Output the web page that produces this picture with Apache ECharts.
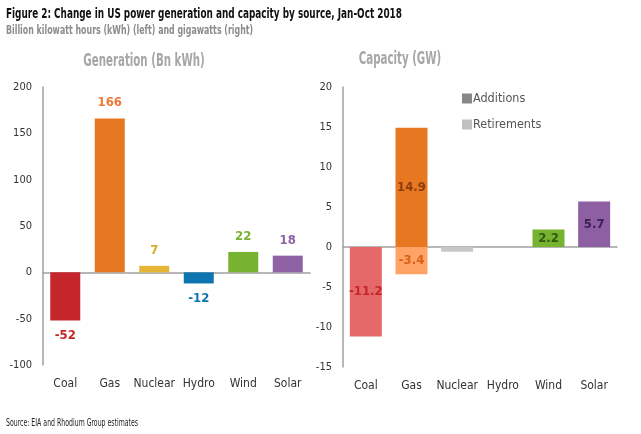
<!DOCTYPE html>
<html><head><meta charset="utf-8">
<script src="https://cdn.jsdelivr.net/npm/echarts@6/dist/echarts.min.js"></script>
<style>html,body{margin:0;padding:0;background:#fff}#c{width:641px;height:434px}</style>
</head><body><div id="c"></div>
<script>
var categories = ['Coal','Gas','Nuclear','Hydro','Wind','Solar'];
var generation = [-52, 166, 7, -12, 22, 18];
var additions = [0, 14.9, 0, 0, 2.2, 5.7];
var retirements = [-11.2, -3.4, -0.6, 0, 0, 0];
var genTicks = {min: -100, max: 200, interval: 50};
var capTicks = {min: -15, max: 20, interval: 5};

var genColors = ['#C4262B','#E87722','#E6B535','#0F75B0','#78B231','#8E62A4'];
var genLabelColors = ['#C4262B','#EF7A3A','#D9A830','#0F75B0','#78B231','#8E62A4'];
var addColors = ['#888','#E87722','#888','#888','#78B231','#8E5FA3'];
var addLabelColors = ['#333','#8A3E0E','#333','#333','#2F5A0F','#3C2152'];
var retColors = ['#E6696A','#FFA366','#C8C8C8','#C8C8C8','#C8C8C8','#C8C8C8'];
var retLabelColors = ['#C4262B','#D9601A','#333','#333','#333','#333'];

var FONT = '"DejaVu Sans Condensed",sans-serif';
var labelFont = {fontFamily: FONT, fontWeight: 'bold', fontSize: 13};

var genData = generation.map(function(v,i){
  return {value: v, itemStyle:{color: genColors[i]},
    label:{show:true, position: v<0?'bottom':'top', distance: 9, color: genLabelColors[i]}};
});
var addData = additions.map(function(v,i){
  return {value: v, itemStyle:{color: addColors[i]},
    label:{show: v!==0, position:'inside', color: addLabelColors[i]}};
});
var retData = retirements.map(function(v,i){
  return {value: v, itemStyle:{color: retColors[i]},
    label:{show: v<=-1, position:'inside', color: retLabelColors[i]}};
});

var axisLabel = {color:'#333', fontFamily: FONT, fontSize: 11, margin: 11};
var catLabel = {color:'#333', fontFamily: FONT, fontSize: 12, margin: 13, interval: 0};
var axisLineStyle = {lineStyle:{color:'#A0A0A0', width:1.5}};

function txt(t, x, y, size, weight, color, sx, align){
  return {type:'text', x:x, y:y, scaleX:sx, silent:true,
    style:{text:t, fontFamily:FONT, fontSize:size, fontWeight:weight, fill:color,
      textAlign: align||'left', textVerticalAlign:'middle'}};
}

var chart = echarts.init(document.getElementById('c'), null, {renderer:'canvas'});
chart.setOption({
  animation: false,
  graphic: [
    txt('Figure 2: Change in US power generation and capacity by source, Jan-Oct 2018', 6, 14, 14, 'bold', '#111', 0.705),
    txt('Billion kilowatt hours (kWh) (left) and gigawatts (right)', 6, 31, 12, 'bold', '#8C8C8C', 0.73),
    txt('Generation (Bn kWh)', 144, 62, 17, 'bold', '#A6A6A6', 0.67, 'center'),
    txt('Capacity (GW)', 400, 60, 17, 'bold', '#A6A6A6', 0.67, 'center'),
    txt('Source: EIA and Rhodium Group estimates', 6, 423, 10, 'normal', '#222', 0.69)
  ],
  legend: {
    data:['Additions','Retirements'], orient:'vertical', left:457, top:87, itemGap:13,
    itemWidth:10, itemHeight:10, icon:'rect',
    textStyle:{fontFamily:FONT, fontSize:12.5, color:'#555', padding:[0,0,0,-4]}
  },
  grid: [
    {left:43, right:331, top:87, height:278},
    {left:343, right:24, top:87, height:280}
  ],
  xAxis: [
    {type:'category', data:categories, gridIndex:0, position:'bottom',
     axisLine:{show:false, onZero:false}, axisTick:{show:false}, axisLabel:catLabel},
    {type:'category', data:categories, gridIndex:1, position:'bottom',
     axisLine:{show:false, onZero:false}, axisTick:{show:false}, axisLabel:catLabel},
    {type:'category', data:categories, gridIndex:0, axisLine:Object.assign({onZero:true}, axisLineStyle),
     axisTick:{show:false}, axisLabel:{show:false}},
    {type:'category', data:categories, gridIndex:1, axisLine:Object.assign({onZero:true}, axisLineStyle),
     axisTick:{show:false}, axisLabel:{show:false}}
  ],
  yAxis: [
    {type:'value', gridIndex:0, min:genTicks.min, max:genTicks.max, interval:genTicks.interval,
     axisLine:Object.assign({show:true}, axisLineStyle), axisTick:{show:false}, splitLine:{show:false}, axisLabel:axisLabel},
    {type:'value', gridIndex:1, min:capTicks.min, max:capTicks.max, interval:capTicks.interval,
     axisLine:Object.assign({show:true}, axisLineStyle), axisTick:{show:false}, splitLine:{show:false}, axisLabel:axisLabel}
  ],
  series: [
    {name:'Generation', type:'bar', xAxisIndex:0, yAxisIndex:0, barWidth:30, data:genData, label:labelFont},
    {name:'Additions', type:'bar', xAxisIndex:1, yAxisIndex:1, stack:'cap', barWidth:32,
     itemStyle:{color:'#888'}, data:addData, label:labelFont},
    {name:'Retirements', type:'bar', xAxisIndex:1, yAxisIndex:1, stack:'cap', barWidth:32,
     itemStyle:{color:'#C0C0C0'}, data:retData, label:labelFont}
  ]
});
</script></body></html>
